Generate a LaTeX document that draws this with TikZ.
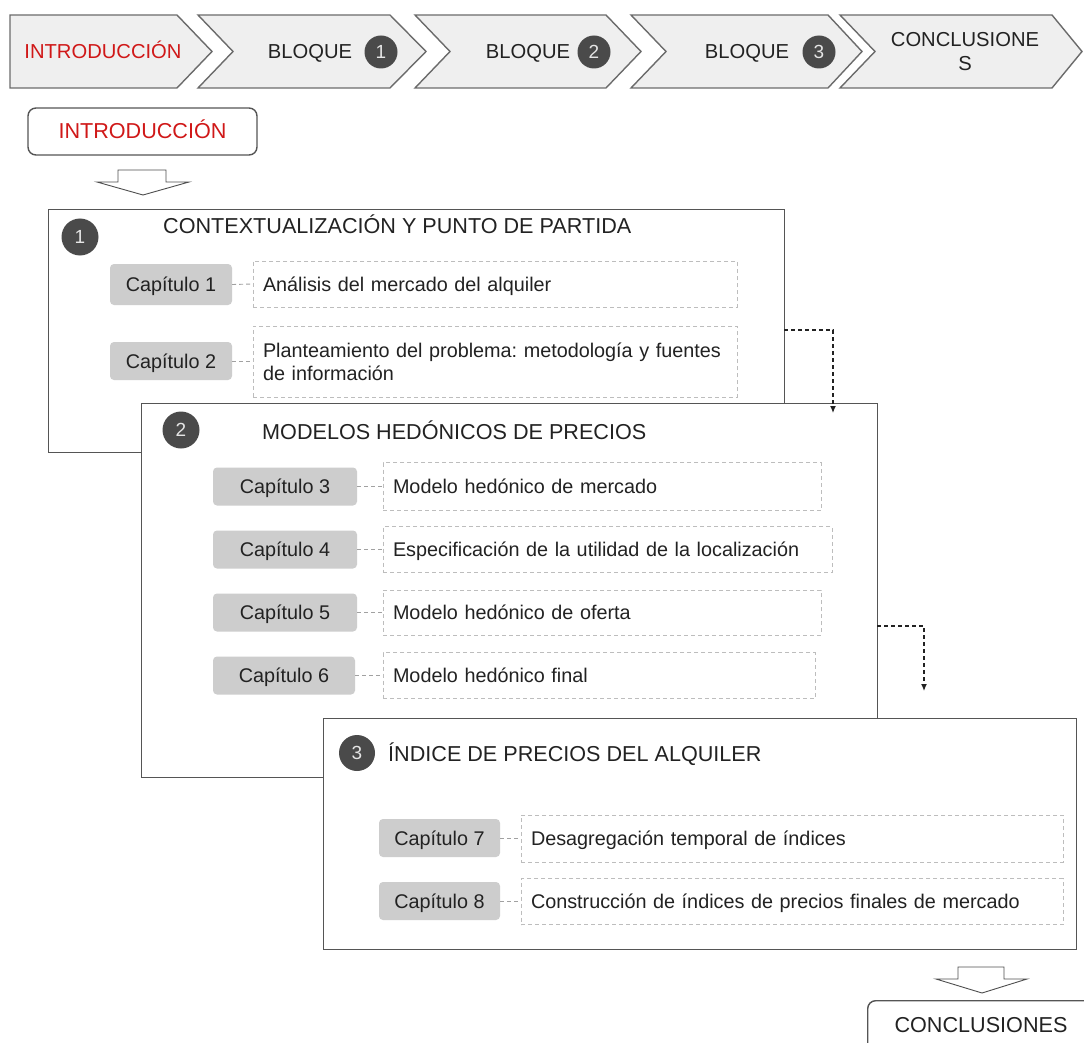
\documentclass[tikz,border=0pt]{standalone}
\usepackage{fontspec}
\setmainfont{Liberation Sans}
\usetikzlibrary{arrows.meta}
\frenchspacing

\definecolor{ink}{HTML}{222222}
\definecolor{accent}{HTML}{D01818}
\definecolor{chevfill}{HTML}{EFEFEF}
\definecolor{chevline}{HTML}{6B6B6B}
\definecolor{frameline}{HTML}{555555}
\definecolor{tagfill}{HTML}{CDCDCD}
\definecolor{dashline}{HTML}{BDBDBD}
\definecolor{badge}{HTML}{4A4A4A}

\newcommand{\bodysize}{\fontsize{19.8}{23}\selectfont}
\newcommand{\barsize}{\fontsize{20.2}{24}\selectfont}
\newcommand{\headsize}{\fontsize{21.6}{25}\selectfont}

\tikzset{
  chevron/.style={fill=chevfill, draw=chevline, line width=1.4pt, line join=miter},
  stagebox/.style={draw=frameline, fill=white, line width=1.3pt, anchor=north west, inner sep=0pt},
  oneline/.style={text height=14pt, text depth=0pt},
  bartext/.style={oneline, font=\barsize},
  chaptag/.style={fill=tagfill, rounded corners=4pt, inner sep=0pt, oneline, minimum height=38pt},
  descbox/.style={draw=dashline, line width=0.9pt, dash pattern=on 4pt off 3pt,
    inner xsep=10pt, inner ysep=0pt, align=left},
  tagjoin/.style={draw=dashline!85!black, line width=0.9pt, dash pattern=on 4pt off 3pt},
  numbadge/.style={circle, fill=badge, text=white!90!black, inner sep=0pt,
    font=\fontsize{19}{19}\selectfont},
  blocktitle/.style={anchor=base west, inner sep=0pt, font=\headsize},
  flow/.style={draw=ink, line width=1.2pt, dash pattern=on 4pt off 3pt,
    -{Latex[length=7pt,width=6pt]}},
  hollowarrow/.style={draw=ink!80, line width=0.9pt, fill=white, line join=miter},
  roundbox/.style={draw=frameline, line width=1.4pt, rounded corners=8pt, fill=white}
}

\begin{document}
\begin{tikzpicture}[x=1pt, y=-1pt, font=\bodysize, text=ink]
\useasboundingbox (0,0) rectangle (1084,1043);
\clip (0,0) rectangle (1084,1043);

% ---- progress bar of chevrons ----
\draw[chevron] (10,15) -- (177,15) -- (212,51.5) -- (177,88) -- (10,88) -- cycle;
\draw[chevron] (198,15) -- (390,15) -- (426,51.5) -- (390,88) -- (198,88) -- (233,51.5) -- cycle;
\draw[chevron] (415,15) -- (606,15) -- (641,51.5) -- (606,88) -- (415,88) -- (450,51.5) -- cycle;
\draw[chevron] (631,15) -- (828,15) -- (862,51.5) -- (828,88) -- (631,88) -- (666,51.5) -- cycle;
\draw[chevron] (840,15) -- (1052,15) -- (1082,51.5) -- (1052,88) -- (840,88) -- (875,51.5) -- cycle;

\node[bartext, text=accent] (barintro) at (103,52) {INTRODUCCIÓN};
\node[bartext] (barb1) at (310,52) {BLOQUE};
\node[numbadge, minimum size=33pt] (barn1) at (381,52) {1};
\node[bartext] (barb2) at (528,52) {BLOQUE};
\node[numbadge, minimum size=33pt] (barn2) at (594,52) {2};
\node[bartext] (barb3) at (747,52) {BLOQUE};
\node[numbadge, minimum size=33pt] (barn3) at (819,52) {3};
\node[align=center, font=\barsize] (barconc) at (965,52) {CONCLUSIONE\\S};

% ---- introduction box and hollow arrow ----
\node[roundbox, minimum width=229pt, minimum height=47pt, oneline, font=\headsize, text=accent] (intro) at (142.5,131.5) {INTRODUCCIÓN};
\draw[hollowarrow] (118,170) -- (166,170) -- (166,182) -- (189,182) -- (143,195) -- (97,182) -- (118,182) -- cycle;

% ---- block 1 ----
\node[stagebox, minimum width=736pt, minimum height=243pt] (box1) at (48,209) {};
\node[numbadge, minimum size=37pt] (n1) at (80,237) {1};
\node[blocktitle] (title1) at (163,233.5) {CONTEXTUALIZACIÓN Y PUNTO DE PARTIDA};

\node[chaptag, minimum width=122pt, minimum height=41pt] (t1) at (171,284.5) {Capítulo 1};
\node[descbox, oneline, text width=464pt, minimum height=46pt] (d1) at (495,284) {Análisis del mercado del alquiler};
\draw[tagjoin] (t1.east) -- (d1.west);

\node[chaptag, minimum width=122pt] (t2) at (171,361) {Capítulo 2};
\node[descbox, text width=464pt, minimum height=71pt] (d2) at (495,361.5) {Planteamiento del problema: metodología y fuentes\\de información};
\draw[tagjoin] (t2.east) -- (d2.west |- t2.east);

% ---- block 2 ----
\node[stagebox, minimum width=736pt, minimum height=374pt] (box2) at (141,403) {};
\node[numbadge, minimum size=37pt] (n2) at (181,430) {2};
\node[blocktitle] (title2) at (262,439) {MODELOS HEDÓNICOS DE PRECIOS};

\node[chaptag, minimum width=144pt] (t3) at (285,486.5) {Capítulo 3};
\node[descbox, oneline, text width=418pt, minimum height=48pt] (d3) at (602,486.5) {Modelo hedónico de mercado};
\draw[tagjoin] (t3.east) -- (d3.west);

\node[chaptag, minimum width=144pt] (t4) at (285,549.5) {Capítulo 4};
\node[descbox, oneline, text width=429pt, minimum height=46pt] (d4) at (607.5,549.5) {Especificación de la utilidad de la localización};
\draw[tagjoin] (t4.east) -- (d4.west);

\node[chaptag, minimum width=144pt] (t5) at (285,612.5) {Capítulo 5};
\node[descbox, oneline, text width=418pt, minimum height=45pt] (d5) at (602,612.5) {Modelo hedónico de oferta};
\draw[tagjoin] (t5.east) -- (d5.west);

\node[chaptag, minimum width=142pt] (t6) at (284,675.5) {Capítulo 6};
\node[descbox, oneline, text width=412pt, minimum height=46pt] (d6) at (599,675.5) {Modelo hedónico final};
\draw[tagjoin] (t6.east) -- (d6.west);

% flow from block 1 into block 2
\coordinate (f1s) at (784,330);
\coordinate (f1e) at (833,413);
\draw[flow] (f1s) -| (f1e);

% ---- block 3 ----
\node[stagebox, minimum width=753pt, minimum height=231pt] (box3) at (323,718) {};
\node[numbadge, minimum size=36pt] (n3) at (357,753) {3};
\node[blocktitle] (title3) at (388,761) {ÍNDICE DE PRECIOS DEL ALQUILER};

\node[chaptag, minimum width=121pt] (t7) at (439.5,838) {Capítulo 7};
\node[descbox, oneline, text width=522pt, minimum height=47pt] (d7) at (792,838.5) {Desagregación temporal de índices};
\draw[tagjoin] (t7.east) -- (d7.west |- t7.east);

\node[chaptag, minimum width=121pt] (t8) at (439.5,901) {Capítulo 8};
\node[descbox, oneline, text width=522pt, minimum height=46pt] (d8) at (792,901.5) {Construcción de índices de precios finales de mercado};
\draw[tagjoin] (t8.east) -- (d8.west |- t8.east);

% flow from block 2 towards block 3
\coordinate (f2s) at (877,626);
\coordinate (f2e) at (924,691);
\draw[flow] (f2s) -| (f2e);

% ---- conclusions ----
\draw[hollowarrow] (958,967) -- (1004,967) -- (1004,979) -- (1027,979) -- (982,993) -- (936,979) -- (958,979) -- cycle;
\node[roundbox, anchor=north west, minimum width=260pt, minimum height=80pt] (concbox) at (867,1000) {};
\node[oneline, font=\headsize] (conclabel) at (981,1025) {CONCLUSIONES};
\end{tikzpicture}
\end{document}
